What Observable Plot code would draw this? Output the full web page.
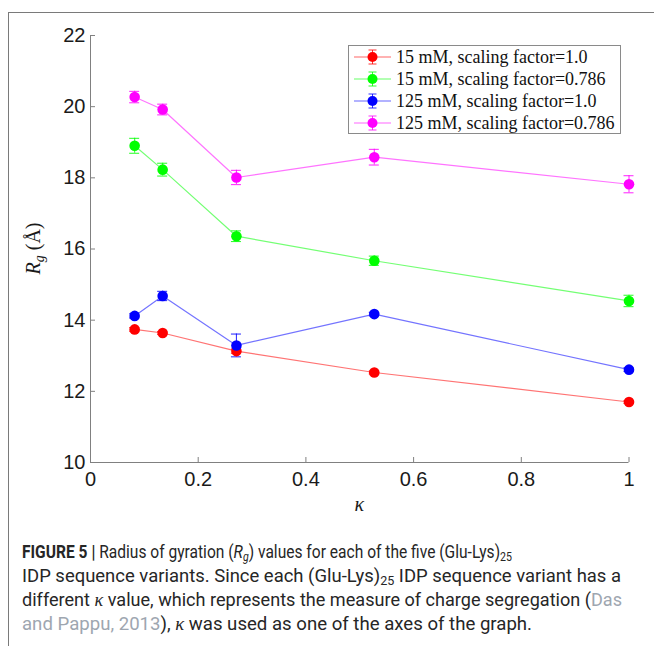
<!DOCTYPE html>
<html><head><meta charset="utf-8">
<script src="https://cdn.jsdelivr.net/npm/d3@7"></script>
<script src="https://cdn.jsdelivr.net/npm/@observablehq/plot@0.6"></script>
<style>
body{margin:0;background:#fff;}
#wrap{position:relative;width:654px;height:646px;overflow:hidden;background:#fff;}
#frame{position:absolute;left:8px;top:12px;width:660px;height:660px;border-left:1px solid #7a7a7a;border-top:1px solid #7a7a7a;}
#chart{position:absolute;left:0;top:0;}
#legend{position:absolute;left:348px;top:45px;width:273px;height:89px;border:1px solid #8a8a8a;background:#fff;box-sizing:border-box;font-family:"Liberation Serif",serif;font-size:18px;color:#111;}
#legend .row{height:22px;display:flex;align-items:center;white-space:nowrap;}
#legend svg{flex:none;margin-left:4px;margin-right:5px;}
#caption{position:absolute;left:22px;top:540px;font-family:Roboto,sans-serif;font-size:18.4px;line-height:24px;color:#262626;white-space:nowrap;}
#caption > div{transform-origin:0 50%;width:max-content;}
#caption sub{font-size:0.68em;line-height:0;vertical-align:-0.25em;}
#caption .link{color:#9ea6b0;}
#caption .k{font-family:"Liberation Serif",serif;font-style:italic;}
</style></head><body>
<div id="wrap">
  <div id="frame"></div>
  <div id="chart"></div>
  <div id="legend"></div>
  <div id="caption">
    <div><b>FIGURE 5 |</b> Radius of gyration (<i>R<sub>g</sub></i>) values for each of the five (Glu-Lys)<sub>25</sub></div>
    <div>IDP sequence variants. Since each (Glu-Lys)<sub>25</sub> IDP sequence variant has a</div>
    <div>different <span class="k">κ</span> value, which represents the measure of charge segregation (<span class="link">Das</span></div>
    <div><span class="link">and Pappu, 2013</span>), <span class="k">κ</span> was used as one of the axes of the graph.</div>
  </div>
</div>
<script>
// ---- data ----
const kappa = [0.082, 0.134, 0.271, 0.527, 1.0];
const seriesNames = [
  "15 mM, scaling factor=1.0",
  "15 mM, scaling factor=0.786",
  "125 mM, scaling factor=1.0",
  "125 mM, scaling factor=0.786"
];
const seriesColors = ["#ff0000", "#00ff00", "#0000ff", "#ff00ff"];
const rg15_10    = [13.74, 13.64, 13.13, 12.53, 11.70];
const err15_10   = [0.05, 0.04, 0.06, 0.04, 0.04];
const rg15_0786  = [18.90, 18.23, 16.36, 15.67, 14.54];
const err15_0786 = [0.21, 0.18, 0.15, 0.13, 0.16];
const rg125_10   = [14.12, 14.68, 13.29, 14.17, 12.61];
const err125_10  = [0.06, 0.13, 0.32, 0.05, 0.05];
const rg125_0786 = [20.27, 19.92, 18.01, 18.58, 17.82];
const err125_0786= [0.16, 0.15, 0.20, 0.22, 0.24];
const xTicks = [0, 0.2, 0.4, 0.6, 0.8, 1];
const yTicks = [10, 12, 14, 16, 18, 20, 22];

const seriesValues = [rg15_10, rg15_0786, rg125_10, rg125_0786];
const seriesErrors = [err15_10, err15_0786, err125_10, err125_0786];

const rows = [];
seriesNames.forEach((name, s) => {
  kappa.forEach((k, i) => {
    rows.push({s: name, color: seriesColors[s], k, rg: seriesValues[s][i], e: seriesErrors[s][i]});
  });
});

const W = 654, H = 520, mL = 90, mR = 25.5, mT = 35, mB = 58;
const frameW = W - mL - mR, frameH = H - mT - mB;
const axisColor = "#808080";

const plot = Plot.plot({
  width: W, height: H,
  marginLeft: mL, marginRight: mR, marginTop: mT, marginBottom: mB,
  x: {domain: [0, 1]},
  y: {domain: [10, 22]},
  color: {type: "identity"},
  style: {fontFamily: "'Liberation Sans', Arial, sans-serif", fontSize: "20px", color: "#1a1a1a", background: "transparent"},
  marks: [
    Plot.ruleY([10], {stroke: axisColor}),
    Plot.ruleX([0], {y1: 10, y2: 22, stroke: axisColor}),
    Plot.tickX(xTicks, {x: d => d, stroke: axisColor, insetTop: frameH - 5}),
    Plot.tickY(yTicks, {y: d => d, stroke: axisColor, insetRight: frameW - 5}),
    Plot.axisX(xTicks, {tickSize: 0, tickPadding: 9, label: null, tickFormat: d => String(d), fontSize: 20}),
    Plot.axisY(yTicks, {tickSize: 0, tickPadding: 5, label: null, fontSize: 20}),
    Plot.line(rows, {x: "k", y: "rg", z: "s", stroke: "color", strokeWidth: 1.2, strokeOpacity: 0.55}),
    Plot.ruleX(rows, {x: "k", y1: d => d.rg - d.e, y2: d => d.rg + d.e, stroke: "color", strokeWidth: 1.1, strokeOpacity: 0.8}),
    Plot.ruleY(rows, {y: d => d.rg + d.e, x1: "k", x2: "k", insetLeft: -5, insetRight: -5, stroke: "color", strokeWidth: 1.1, strokeOpacity: 0.8}),
    Plot.ruleY(rows, {y: d => d.rg - d.e, x1: "k", x2: "k", insetLeft: -5, insetRight: -5, stroke: "color", strokeWidth: 1.1, strokeOpacity: 0.8}),
    Plot.dot(rows, {x: "k", y: "rg", fill: "color", r: 5.3})
  ]
});
document.getElementById("chart").appendChild(plot);

// axis titles
const xs = plot.scale("x"), ys = plot.scale("y");
const svg = d3.select(plot);
const yl = svg.append("text")
  .attr("transform", `translate(40,${(ys.apply(10) + ys.apply(22)) / 2}) rotate(-90)`)
  .attr("text-anchor", "middle")
  .attr("font-family", "'Liberation Serif', serif")
  .attr("font-size", 20)
  .attr("fill", "#1a1a1a");
yl.append("tspan").attr("font-style", "italic").text("R");
yl.append("tspan").attr("font-style", "italic").attr("font-size", 14).attr("dy", 4).text("g");
yl.append("tspan").attr("dy", -4).text(" (Å)");
svg.append("text")
  .attr("x", (xs.apply(0) + xs.apply(1)) / 2)
  .attr("y", 511)
  .attr("text-anchor", "middle")
  .attr("font-family", "'Liberation Serif', serif")
  .attr("font-style", "italic")
  .attr("font-size", 20)
  .attr("fill", "#1a1a1a")
  .text("κ");

// legend
const leg = d3.select("#legend");
seriesNames.forEach((name, s) => {
  const row = leg.append("div").attr("class", "row");
  const sw = row.append("svg").attr("width", 38).attr("height", 22);
  const c = seriesColors[s];
  sw.append("line").attr("x1", 1).attr("x2", 38).attr("y1", 11).attr("y2", 11).attr("stroke", c).attr("stroke-opacity", 0.6).attr("stroke-width", 1.2);
  sw.append("line").attr("x1", 19.5).attr("x2", 19.5).attr("y1", 4).attr("y2", 18).attr("stroke", c).attr("stroke-opacity", 0.8);
  sw.append("line").attr("x1", 15.5).attr("x2", 23.5).attr("y1", 4).attr("y2", 4).attr("stroke", c).attr("stroke-opacity", 0.8);
  sw.append("line").attr("x1", 15.5).attr("x2", 23.5).attr("y1", 18).attr("y2", 18).attr("stroke", c).attr("stroke-opacity", 0.8);
  sw.append("circle").attr("cx", 19.5).attr("cy", 11).attr("r", 5).attr("fill", c);
  row.append("span").text(name);
});

// fit each caption line to the width it occupies in the reference
const captionRight = [512, 621, 622, 532];
document.querySelectorAll("#caption > div").forEach((d, i) => {
  const w = d.getBoundingClientRect().width;
  const target = captionRight[i] - 22;
  d.style.transform = `scaleX(${target / w})`;
});
</script>
</body></html>
